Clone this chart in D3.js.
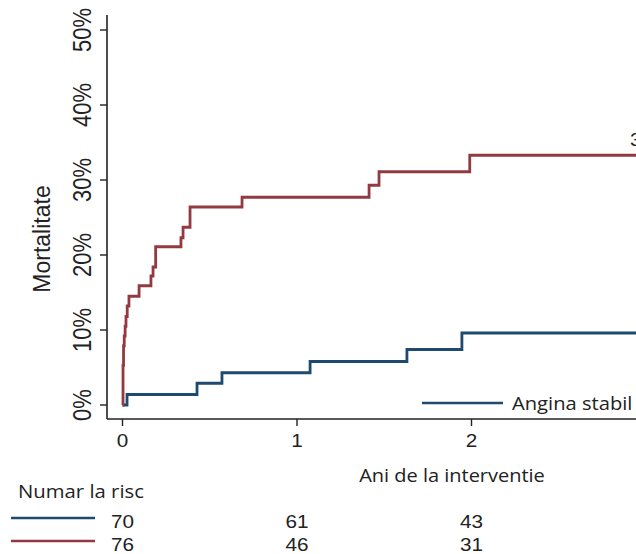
<!DOCTYPE html>
<html>
<head>
<meta charset="utf-8">
<script src="https://cdn.jsdelivr.net/npm/d3@7"></script>
<style>
  body { margin: 0; background: #fff; }
  svg { display: block; }
</style>
</head>
<body>
<div id="chart"></div>
<script>
// Kaplan-Meier style mortality curves (years, percent)
var blueTime = [0, 0.026, 0.427, 0.57, 1.075, 1.63, 1.945, 3.2];
var bluePct = [0, 1.4, 2.9, 4.3, 5.8, 7.4, 9.6, 9.6];

var redTime = [0, 0.003, 0.006, 0.01, 0.015, 0.02, 0.027, 0.037, 0.095, 0.163, 0.175, 0.19, 0.335, 0.347, 0.387, 0.685, 1.413, 1.47, 1.99, 3.2];
var redPct = [0, 5.3, 7.9, 9.2, 10.5, 11.8, 13.2, 14.5, 15.9, 17.2, 18.4, 21.1, 22.3, 23.7, 26.4, 27.7, 29.3, 31.1, 33.3, 33.3];

var xTicks = [0, 1, 2, 3];
var xLabels = ["0", "1", "2"];
var yTicks = [0, 10, 20, 30, 40, 50];

var riskTimes = [0, 1, 2];
var riskBlue = [70, 61, 43];
var riskRed = [76, 46, 31];

var legendLabel = "Angina stabil";
var blue = "#1d4a6e", red = "#933a40";

var width = 636, height = 554;
var svg = d3.select("#chart").append("svg")
    .attr("width", width)
    .attr("height", height);

// scales
var x = d3.scaleLinear().domain([0, 3]).range([122.5, 646]);
var y = d3.scaleLinear().domain([0, 50]).range([405, 30]);

var axisX = 107, axisY = 419;
var numFont = "'Liberation Sans', Arial, sans-serif";
var textFont = "'Open Sans', sans-serif";

// horizontal text, a bit wider than tall like the picture
function hText(px, py, str, font, size, sx, anchor) {
    return svg.append("text")
        .attr("transform", "translate(" + px + "," + py + ") scale(" + sx + ",1)")
        .attr("text-anchor", anchor || "start")
        .style("font-family", font)
        .style("font-size", size + "px")
        .style("fill", "#222")
        .text(str);
}

// Y axis
svg.append("line")
    .attr("x1", axisX).attr("x2", axisX)
    .attr("y1", 15).attr("y2", axisY)
    .attr("stroke", "#222").attr("stroke-width", 1.6);
svg.append("g").selectAll("line")
    .data(yTicks).enter().append("line")
        .attr("x1", axisX - 7).attr("x2", axisX)
        .attr("y1", function(d) { return y(d); })
        .attr("y2", function(d) { return y(d); })
        .attr("stroke", "#222").attr("stroke-width", 1.4);
svg.append("g").selectAll("text")
    .data(yTicks).enter().append("text")
        .attr("transform", function(d) { return "translate(91," + y(d) + ") rotate(-90) scale(1,1.2)"; })
        .attr("text-anchor", "middle")
        .style("font-family", numFont)
        .style("font-size", "22px")
        .style("fill", "#222")
        .text(function(d) { return d + "%"; });

svg.append("text")
    .attr("transform", "translate(50,239) rotate(-90)")
    .attr("text-anchor", "middle")
    .style("font-family", numFont)
    .style("font-size", "23px")
    .style("fill", "#222")
    .text("Mortalitate");

// X axis
svg.append("line")
    .attr("x1", axisX).attr("x2", width)
    .attr("y1", axisY).attr("y2", axisY)
    .attr("stroke", "#222").attr("stroke-width", 1.6);
svg.append("g").selectAll("line")
    .data(xTicks).enter().append("line")
        .attr("x1", function(d) { return x(d); })
        .attr("x2", function(d) { return x(d); })
        .attr("y1", axisY).attr("y2", axisY + 7)
        .attr("stroke", "#222").attr("stroke-width", 1.4);
xLabels.forEach(function(lab, i) {
    hText(x(xTicks[i]), 447, lab, numFont, 18, 1.15, "middle");
});

hText(452, 482, "Ani de la interventie", textFont, 18, 1.11, "middle");

// curves
var line = d3.line()
    .x(function(d) { return x(d.t); })
    .y(function(d) { return y(d.p); })
    .curve(d3.curveStepAfter);

function series(times, pcts) {
    return times.map(function(t, i) { return {t: t, p: pcts[i]}; });
}

svg.append("path")
    .datum(series(blueTime, bluePct))
    .attr("d", line)
    .attr("fill", "none")
    .attr("stroke", blue)
    .attr("stroke-width", 2.8);
svg.append("path")
    .datum(series(redTime, redPct))
    .attr("d", line)
    .attr("fill", "none")
    .attr("stroke", red)
    .attr("stroke-width", 2.8);

// end label, cut by the right edge as in the picture
hText(630, 146, "33.3%", numFont, 18, 1.15);

// legend
svg.append("line")
    .attr("x1", 422).attr("x2", 503)
    .attr("y1", 403).attr("y2", 403)
    .attr("stroke", blue).attr("stroke-width", 2.4);
hText(512, 410, legendLabel, textFont, 18, 1.12);

// risk table
hText(18, 498, "Numar la risc", textFont, 19, 1.07);

var rows = [{vals: riskBlue, color: blue, y: 518}, {vals: riskRed, color: red, y: 541}];
rows.forEach(function(r) {
    svg.append("line")
        .attr("x1", 11).attr("x2", 95)
        .attr("y1", r.y).attr("y2", r.y)
        .attr("stroke", r.color).attr("stroke-width", 2.6);
    r.vals.forEach(function(v, i) {
        hText(x(riskTimes[i]), r.y + 10, v, numFont, 18, 1.15, "middle");
    });
});
</script>
</body>
</html>
